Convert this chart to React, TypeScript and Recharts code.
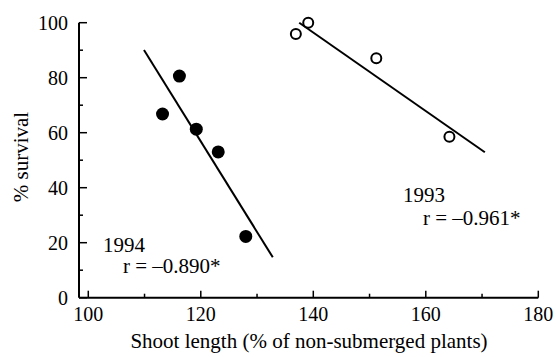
import React from "react";
import {
  ScatterChart,
  Scatter,
  XAxis,
  YAxis,
  ReferenceLine,
} from "recharts";

// survival vs shoot length
const shoot1994 = [113.2, 116.2, 119.2, 123.1, 128.0];
const survival1994 = [66.8, 80.6, 61.3, 53.0, 22.3];
const shoot1993 = [136.9, 139.1, 151.2, 164.2];
const survival1993 = [95.9, 100, 87.1, 58.5];

// regression line end points
const fit1994X = [109.9, 132.8];
const fit1994Y = [90.1, 14.7];
const fit1993X = [137.5, 170.5];
const fit1993Y = [100, 52.9];

const xTicks = [100, 110, 120, 130, 140, 150, 160, 170, 180];
const yTicks = [0, 10, 20, 30, 40, 50, 60, 70, 80, 90, 100];

const FONT = "Liberation Serif";

const data1994 = shoot1994.map((x, i) => ({ x, y: survival1994[i] }));
const data1993 = shoot1993.map((x, i) => ({ x, y: survival1993[i] }));

const renderXTick = (props: any) => {
  const { x, y, payload } = props;
  const major = payload.value % 20 === 0;
  return (
    <g key={`xt-${payload.value}`}>
      <line x1={x} x2={x} y1={y} y2={y - (major ? 7 : 4)} stroke="#000" strokeWidth={1.5} />
      {major && (
        <text x={x} y={y + 23} textAnchor="middle" fontFamily={FONT} fontSize={20} fill="#000">
          {String(payload.value)}
        </text>
      )}
    </g>
  );
};

const renderYTick = (props: any) => {
  const { x, y, payload } = props;
  const major = payload.value % 20 === 0;
  return (
    <g key={`yt-${payload.value}`}>
      <line x1={x} x2={x + (major ? 8 : 4)} y1={y} y2={y} stroke="#000" strokeWidth={1.5} />
      {major && (
        <text x={x - 11} y={y + 7} textAnchor="end" fontFamily={FONT} fontSize={20} fill="#000">
          {String(payload.value)}
        </text>
      )}
    </g>
  );
};

const FilledDot = (props: any) => <circle cx={props.cx} cy={props.cy} r={6.5} fill="#000" />;
const OpenDot = (props: any) => (
  <circle cx={props.cx} cy={props.cy} r={5} fill="none" stroke="#000" strokeWidth={2} />
);

export default function App() {
  return (
    <div style={{ position: "absolute", left: 0, top: 0, width: 556, height: 357, background: "#fff", fontFamily: FONT }}>
      <ScatterChart
        width={556}
        height={357}
        margin={{ top: 22.7, right: 17.7, bottom: 0, left: 0 }}
        style={{ fontFamily: FONT }}
      >
        <XAxis
          type="number"
          dataKey="x"
          domain={[98.35, 180]}
          ticks={xTicks}
          interval={0}
          height={59.3}
          tickSize={0}
          tickMargin={0}
          tickLine={false}
          tick={renderXTick}
          axisLine={{ stroke: "#000", strokeWidth: 2 }}
        />
        <YAxis
          type="number"
          dataKey="y"
          domain={[0, 100]}
          ticks={yTicks}
          interval={0}
          width={79}
          tickSize={0}
          tickMargin={0}
          tickLine={false}
          tick={renderYTick}
          axisLine={{ stroke: "#000", strokeWidth: 2 }}
        />
        <ReferenceLine
          segment={[
            { x: fit1994X[0], y: fit1994Y[0] },
            { x: fit1994X[1], y: fit1994Y[1] },
          ]}
          stroke="#000"
          strokeWidth={2}
          ifOverflow="visible"
        />
        <ReferenceLine
          segment={[
            { x: fit1993X[0], y: fit1993Y[0] },
            { x: fit1993X[1], y: fit1993Y[1] },
          ]}
          stroke="#000"
          strokeWidth={2}
          ifOverflow="visible"
        />
        <Scatter data={data1994} shape={<FilledDot />} isAnimationActive={false} />
        <Scatter data={data1993} shape={<OpenDot />} isAnimationActive={false} />
      </ScatterChart>
      <svg
        width={556}
        height={357}
        style={{ position: "absolute", left: 0, top: 0, pointerEvents: "none" }}
        fontFamily={FONT}
        fill="#000"
      >
        <text x={309} y={348} textAnchor="middle" fontSize={21}>
          Shoot length (% of non-submerged plants)
        </text>
        <text transform="translate(28,157) rotate(-90)" textAnchor="middle" fontSize={21}>
          % survival
        </text>
        <text x={103} y={252} fontSize={21}>1994</text>
        <text x={123} y={273} fontSize={21}>r = –0.890*</text>
        <text x={403} y={202} fontSize={21}>1993</text>
        <text x={423} y={225} fontSize={21}>r = –0.961*</text>
      </svg>
    </div>
  );
}
